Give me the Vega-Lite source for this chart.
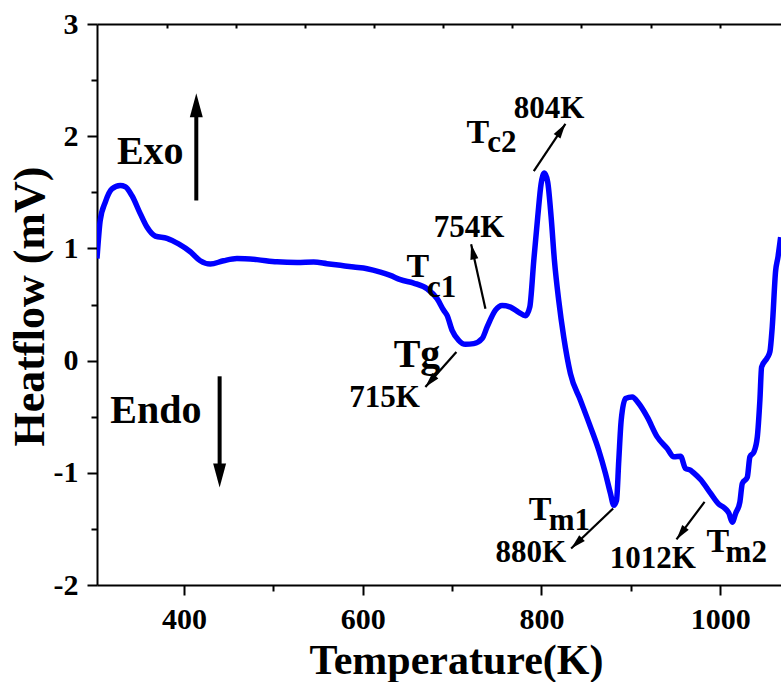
{
  "$schema": "https://vega.github.io/schema/vega-lite/v6.json",
  "width": 684,
  "height": 561,
  "autosize": {"type": "none"},
  "padding": {"left": 97, "top": 24, "right": 0, "bottom": 97},
  "background": "white",
  "config": {
    "view": {"stroke": null},
    "axis": {
      "domainColor": "black", "domainWidth": 2, "tickColor": "black", "tickWidth": 2,
      "labelFont": "Liberation Serif", "labelFontWeight": "bold", "labelFontSize": 30, "labelColor": "black",
      "titleFont": "Liberation Serif", "titleFontWeight": "bold", "titleColor": "black", "grid": false
    }
  },
  "datasets": {
    "curve": [
      {"T": 302.7, "H": 0.91}, {"T": 306.3, "H": 1.25}, {"T": 311.9, "H": 1.41}, {"T": 319.4, "H": 1.53},
      {"T": 328.7, "H": 1.56}, {"T": 334.3, "H": 1.55}, {"T": 341.8, "H": 1.47}, {"T": 351.1, "H": 1.31},
      {"T": 358.6, "H": 1.19}, {"T": 367.9, "H": 1.11}, {"T": 381.0, "H": 1.09}, {"T": 394.0, "H": 1.04},
      {"T": 407.1, "H": 0.97}, {"T": 418.2, "H": 0.89}, {"T": 429.4, "H": 0.86}, {"T": 444.3, "H": 0.89},
      {"T": 459.3, "H": 0.91}, {"T": 481.7, "H": 0.9}, {"T": 504.1, "H": 0.88}, {"T": 526.5, "H": 0.875},
      {"T": 545.1, "H": 0.878}, {"T": 560.1, "H": 0.864}, {"T": 575.0, "H": 0.849}, {"T": 589.9, "H": 0.834},
      {"T": 604.9, "H": 0.819}, {"T": 619.8, "H": 0.789}, {"T": 630.9, "H": 0.76}, {"T": 642.1, "H": 0.721},
      {"T": 657.0, "H": 0.691}, {"T": 672.0, "H": 0.641}, {"T": 683.2, "H": 0.552}, {"T": 690.6, "H": 0.448},
      {"T": 694.4, "H": 0.403}, {"T": 700.0, "H": 0.27}, {"T": 707.4, "H": 0.181}, {"T": 714.9, "H": 0.145},
      {"T": 724.2, "H": 0.151}, {"T": 733.6, "H": 0.196}, {"T": 739.2, "H": 0.3}, {"T": 748.5, "H": 0.45},
      {"T": 756.0, "H": 0.492}, {"T": 765.3, "H": 0.477}, {"T": 774.6, "H": 0.43}, {"T": 782.1, "H": 0.4},
      {"T": 786.9, "H": 0.477}, {"T": 791.4, "H": 0.893}, {"T": 795.8, "H": 1.279}, {"T": 799.6, "H": 1.576},
      {"T": 803.3, "H": 1.671}, {"T": 807.0, "H": 1.59}, {"T": 810.8, "H": 1.279}, {"T": 814.5, "H": 0.893},
      {"T": 819.3, "H": 0.537}, {"T": 824.9, "H": 0.21}, {"T": 832.4, "H": -0.116}, {"T": 843.6, "H": -0.353},
      {"T": 854.8, "H": -0.591}, {"T": 864.1, "H": -0.799}, {"T": 871.6, "H": -1.006}, {"T": 877.2, "H": -1.184},
      {"T": 880.9, "H": -1.289}, {"T": 884.0, "H": -1.244}, {"T": 886.5, "H": -0.888}, {"T": 889.2, "H": -0.532},
      {"T": 894.0, "H": -0.338}, {"T": 901.5, "H": -0.324}, {"T": 908.9, "H": -0.383}, {"T": 918.3, "H": -0.502},
      {"T": 929.5, "H": -0.68}, {"T": 940.7, "H": -0.784}, {"T": 948.1, "H": -0.858}, {"T": 955.6, "H": -0.852},
      {"T": 961.2, "H": -0.962}, {"T": 966.8, "H": -0.977}, {"T": 968.7, "H": -0.99}, {"T": 978.0, "H": -1.06},
      {"T": 989.3, "H": -1.184}, {"T": 998.5, "H": -1.28}, {"T": 1004.1, "H": -1.309}, {"T": 1009.8, "H": -1.362},
      {"T": 1013.5, "H": -1.44}, {"T": 1017.2, "H": -1.362}, {"T": 1022.0, "H": -1.26}, {"T": 1024.7, "H": -1.095},
      {"T": 1030.3, "H": -1.04}, {"T": 1033.2, "H": -0.858}, {"T": 1037.7, "H": -0.814}, {"T": 1041.5, "H": -0.68},
      {"T": 1044.4, "H": -0.35}, {"T": 1046.3, "H": -0.057}, {"T": 1052.6, "H": 0.025}, {"T": 1055.6, "H": 0.08},
      {"T": 1058.2, "H": 0.3}, {"T": 1062.0, "H": 0.8}, {"T": 1064.6, "H": 0.923}, {"T": 1067.6, "H": 1.1}
    ],
    "bigArrows": [
      {"name": "Exo", "x": 413.8, "y": 1.427, "x2": 413.8, "y2": 2.25, "tx": 413.8, "ty": 2.383, "angle": 0},
      {"name": "Endo", "x": 439.9, "y": -0.14, "x2": 439.9, "y2": -1.0, "tx": 439.9, "ty": -1.131, "angle": 180}
    ],
    "smallArrows": [
      {"name": "Tg", "x": 704.8, "y": 0.077, "tx": 670.1, "ty": -0.235, "angle": 221.5},
      {"name": "Tc1", "x": 737.3, "y": 0.463, "tx": 721.3, "ty": 1.036, "angle": 347.5},
      {"name": "Tc2", "x": 791.4, "y": 1.688, "tx": 826.8, "ty": 2.11, "angle": 33.8},
      {"name": "Tm1", "x": 880.2, "y": -1.318, "tx": 833.2, "ty": -1.674, "angle": 226.4},
      {"name": "Tm2", "x": 982.5, "y": -1.259, "tx": 951.1, "ty": -1.594, "angle": 216.7}
    ],
    "bigText": [
      {"x": 325.0, "y": 1.754, "text": "Exo"},
      {"x": 317.5, "y": -0.556, "text": "Endo"},
      {"x": 634.6, "y": -0.057, "text": "Tg"}
    ],
    "tText": [
      {"x": 648.9, "y": 0.744, "text": "T"},
      {"x": 716.0, "y": 1.938, "text": "T"},
      {"x": 785.8, "y": -1.422, "text": "T"},
      {"x": 984.7, "y": -1.704, "text": "T"}
    ],
    "smallText": [
      {"x": 672.0, "y": 0.566, "text": "c1"},
      {"x": 739.2, "y": 1.858, "text": "c2"},
      {"x": 808.2, "y": -1.511, "text": "m1"},
      {"x": 1006.0, "y": -1.793, "text": "m2"},
      {"x": 585.0, "y": -0.416, "text": "715K"},
      {"x": 679.4, "y": 1.101, "text": "754K"},
      {"x": 769.0, "y": 2.164, "text": "804K"},
      {"x": 748.5, "y": -1.793, "text": "880K"},
      {"x": 876.4, "y": -1.852, "text": "1012K"}
    ]
  },
  "layer": [
    {
      "data": {"name": "curve"},
      "mark": {"type": "line", "color": "#0000FF", "strokeWidth": 5.5, "interpolate": "monotone", "clip": true},
      "encoding": {
        "x": {
          "field": "T", "type": "quantitative",
          "scale": {"domain": [302.7, 1068], "nice": false, "zero": false},
          "axis": {
            "orient": "bottom", "values": [400, 500, 600, 700, 800, 900, 1000],
            "tickSize": {"condition": {"test": "datum.value % 200 !== 0", "value": 6}, "value": 10},
            "labelExpr": "datum.value % 200 === 0 ? '' + datum.value : ''",
            "labelPadding": 9, "labelFlush": false, "labelOverlap": false,
            "title": "Temperature(K)", "titleFontSize": 42, "titleX": 359, "titleY": 88,
            "titleAlign": "center", "titleBaseline": "alphabetic"
          }
        },
        "y": {
          "field": "H", "type": "quantitative",
          "scale": {"domain": [-2, 3], "nice": false, "zero": false},
          "axis": {
            "orient": "left", "values": [-2, -1.5, -1, -0.5, 0, 0.5, 1, 1.5, 2, 2.5, 3],
            "tickSize": {"condition": {"test": "datum.value % 1 !== 0", "value": 6}, "value": 10},
            "labelExpr": "datum.value % 1 === 0 ? '' + datum.value : ''",
            "labelPadding": 9, "labelFlush": false, "labelOverlap": false,
            "title": "Heatflow (mV)", "titleFontSize": 44, "titleX": -54, "titleY": 282,
            "titleAngle": -90, "titleAlign": "center", "titleBaseline": "alphabetic"
          }
        }
      }
    },
    {
      "data": {"name": "smallArrows"},
      "mark": {"type": "rule", "color": "black", "strokeWidth": 2.2},
      "encoding": {
        "x": {
          "field": "x", "type": "quantitative",
          "scale": {"domain": [302.7, 1068], "nice": false, "zero": false},
          "axis": {
            "orient": "top", "values": [380.9, 458.2, 535.5, 612.8, 690.1, 767.4, 844.7, 922.0, 999.3],
            "tickSize": -4, "labels": false, "title": null
          }
        },
        "y": {"field": "y", "type": "quantitative", "scale": {"domain": [-2, 3], "nice": false, "zero": false}, "axis": null},
        "x2": {"field": "tx"},
        "y2": {"field": "ty"}
      }
    },
    {
      "data": {"name": "smallArrows"},
      "mark": {"type": "point", "shape": "M0,0L0.27,1L-0.27,1Z", "filled": true, "color": "black", "size": 900, "opacity": 1},
      "encoding": {
        "x": {"field": "tx", "type": "quantitative", "axis": null},
        "y": {"field": "ty", "type": "quantitative", "axis": null},
        "angle": {"field": "angle", "type": "quantitative", "scale": null}
      }
    },
    {
      "data": {"name": "bigArrows"},
      "mark": {"type": "rule", "color": "black", "strokeWidth": 4},
      "encoding": {
        "x": {"field": "x", "type": "quantitative", "axis": null},
        "y": {"field": "y", "type": "quantitative", "axis": null},
        "x2": {"field": "x2"},
        "y2": {"field": "y2"}
      }
    },
    {
      "data": {"name": "bigArrows"},
      "mark": {"type": "point", "shape": "M0,0L0.27,1L-0.27,1Z", "filled": true, "color": "black", "size": 2304, "opacity": 1},
      "encoding": {
        "x": {"field": "tx", "type": "quantitative", "axis": null},
        "y": {"field": "ty", "type": "quantitative", "axis": null},
        "angle": {"field": "angle", "type": "quantitative", "scale": null}
      }
    },
    {
      "data": {"name": "bigText"},
      "mark": {"type": "text", "font": "Liberation Serif", "fontWeight": "bold", "fontSize": 40, "align": "left", "baseline": "alphabetic", "color": "black"},
      "encoding": {
        "x": {"field": "x", "type": "quantitative", "axis": null},
        "y": {"field": "y", "type": "quantitative", "axis": null},
        "text": {"field": "text"}
      }
    },
    {
      "data": {"name": "tText"},
      "mark": {"type": "text", "font": "Liberation Serif", "fontWeight": "bold", "fontSize": 34, "align": "left", "baseline": "alphabetic", "color": "black"},
      "encoding": {
        "x": {"field": "x", "type": "quantitative", "axis": null},
        "y": {"field": "y", "type": "quantitative", "axis": null},
        "text": {"field": "text"}
      }
    },
    {
      "data": {"name": "smallText"},
      "mark": {"type": "text", "font": "Liberation Serif", "fontWeight": "bold", "fontSize": 31, "align": "left", "baseline": "alphabetic", "color": "black"},
      "encoding": {
        "x": {"field": "x", "type": "quantitative", "axis": null},
        "y": {"field": "y", "type": "quantitative", "axis": null},
        "text": {"field": "text"}
      }
    }
  ],
  "resolve": {"axis": {"x": "independent", "y": "independent"}}
}
